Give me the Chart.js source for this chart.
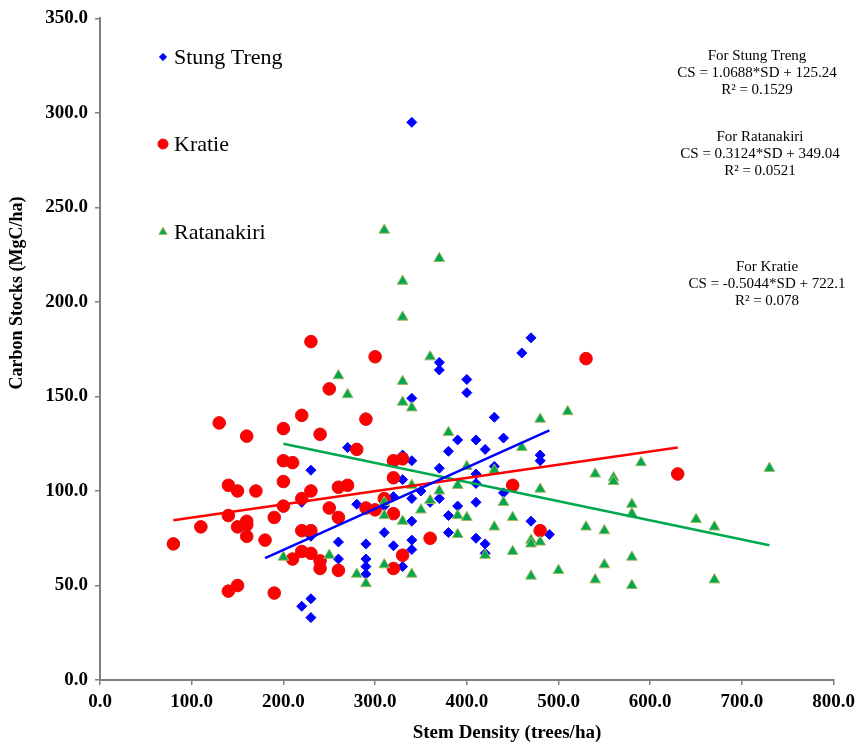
<!DOCTYPE html>
<html>
<head>
<meta charset="utf-8">
<script src="https://cdn.jsdelivr.net/npm/chart.js@4.4.1/dist/chart.umd.min.js"></script>
<style>
  html, body { margin: 0; padding: 0; background: #fff; }
  #wrap { position: relative; width: 861px; height: 744px; }
</style>
</head>
<body>
<div id="wrap"><canvas id="chart"></canvas></div>
<script>
// [stem density, carbon stock] pairs
const stungTreng = [
    [340, 295], [470, 181], [460, 173], [370, 168], [370, 164], [400, 159], [400, 152], [340, 149],
    [430, 139], [390, 127], [410, 127], [440, 128], [420, 122], [380, 121], [270, 123], [330, 119],
    [340, 116], [230, 111], [370, 112], [410, 109], [430, 113], [480, 119], [480, 116], [330, 106],
    [410, 104], [440, 99], [350, 100], [320, 97], [340, 96], [370, 96], [360, 94], [280, 93],
    [310, 92], [220, 94], [390, 92], [410, 94], [340, 84], [380, 87], [470, 84], [490, 77],
    [230, 76], [310, 78], [380, 78], [410, 75], [420, 72], [420, 67], [260, 73], [290, 72],
    [320, 71], [340, 74], [340, 69], [260, 64], [290, 64], [290, 60], [290, 56], [330, 60],
    [230, 43], [220, 39], [230, 33]
];
const kratie = [
    [80, 72], [110, 81], [130, 136], [140, 103], [140, 87], [140, 47], [150, 100], [150, 81],
    [150, 50], [160, 129], [160, 84], [160, 82], [160, 76], [170, 100], [180, 74], [190, 86],
    [190, 46], [200, 133], [200, 116], [200, 105], [200, 92], [210, 115], [210, 64], [220, 140],
    [220, 96], [220, 79], [220, 68], [230, 179], [230, 100], [230, 79], [230, 67], [240, 130],
    [240, 63], [240, 59], [250, 154], [250, 91], [260, 102], [260, 86], [260, 58], [270, 103],
    [280, 122], [290, 138], [290, 91], [300, 171], [300, 90], [310, 96], [320, 116], [320, 107],
    [320, 88], [320, 59], [330, 117], [330, 66], [360, 75], [450, 103], [480, 79], [530, 170],
    [630, 109]
];
const ratanakiri = [
    [260, 161], [270, 151], [200, 65], [250, 66], [280, 56], [310, 238], [370, 223], [330, 211],
    [330, 192], [360, 171], [330, 158], [330, 147], [340, 144], [380, 131], [480, 138], [510, 142],
    [460, 123], [400, 113], [430, 111], [390, 103], [340, 103], [480, 101], [370, 100], [360, 95],
    [310, 94], [350, 90], [310, 87], [330, 84], [390, 87], [400, 86], [440, 94], [450, 86],
    [390, 77], [430, 81], [450, 68], [470, 74], [470, 72], [480, 73], [420, 66], [500, 58],
    [470, 55], [290, 51], [310, 61], [340, 56], [590, 115], [540, 109], [560, 107], [560, 105],
    [730, 112], [580, 93], [580, 88], [650, 85], [670, 81], [530, 81], [550, 79], [580, 65],
    [550, 61], [540, 53], [670, 53], [580, 50]
];

// trend line end points
const trendStungTreng = [[180, 64.5], [490, 132]];
const trendKratie = [[80, 84.5], [630, 123]];
const trendRatanakiri = [[200, 125], [730, 71.3]];

const seriesNames = ['Stung Treng', 'Kratie', 'Ratanakiri'];
const equationBlocks = [
    ['For Stung Treng', 'CS = 1.0688*SD + 125.24', 'R\u00B2 = 0.1529'],
    ['For Ratanakiri', 'CS = 0.3124*SD + 349.04', 'R\u00B2 = 0.0521'],
    ['For Kratie', 'CS = -0.5044*SD + 722.1', 'R\u00B2 = 0.078']
];
const xRange = [0, 800, 100];
const yRange = [0, 350, 50];

const SERIF = '"Liberation Serif", "Times New Roman", serif';
const GREEN = '#00A84F';

const toPoints = arr => arr.map(p => ({ x: p[0], y: p[1] }));

const markerStyles = [
    { pointStyle: 'rectRot', radius: 5, fill: '#0000FF', stroke: '#0000FF' },
    { pointStyle: 'circle', radius: 6.3, fill: '#FF0000', stroke: '#E01010' },
    { pointStyle: 'triangle', radius: 6.2, fill: GREEN, stroke: '#A8B860' }
];

function scatterSet(label, data, st, order) {
    return {
        label: label,
        data: toPoints(data),
        pointStyle: st.pointStyle,
        pointRadius: st.radius,
        backgroundColor: st.fill,
        borderColor: st.stroke,
        borderWidth: 1,
        showLine: false,
        order: order
    };
}

function trendSet(data, color) {
    return {
        data: toPoints(data),
        showLine: true,
        borderColor: color,
        borderWidth: 2.5,
        pointRadius: 0,
        fill: false,
        order: 0
    };
}

const overlay = {
    id: 'overlay',
    afterDraw(chart) {
        const ctx = chart.ctx;
        ctx.save();
        ctx.fillStyle = '#000';
        ctx.textAlign = 'center';
        ctx.textBaseline = 'middle';

        // axis titles
        ctx.font = 'bold 19px ' + SERIF;
        ctx.fillText('Stem Density (trees/ha)', 507, 733);
        ctx.font = 'bold 18px ' + SERIF;
        ctx.save();
        ctx.translate(17, 293);
        ctx.rotate(-Math.PI / 2);
        ctx.fillText('Carbon Stocks (MgC/ha)', 0, 0);
        ctx.restore();

        // legend
        const legendRows = [57, 144, 232];
        const legendSizes = [3.6, 5, 4.8];
        seriesNames.forEach((name, i) => {
            const st = markerStyles[i];
            ctx.fillStyle = st.fill;
            ctx.strokeStyle = st.stroke;
            ctx.lineWidth = 1;
            Chart.helpers.drawPoint(ctx, { pointStyle: st.pointStyle, radius: legendSizes[i], rotation: 0, borderWidth: 1 }, 163, legendRows[i]);
            ctx.fillStyle = '#000';
            ctx.textAlign = 'left';
            ctx.font = '22px ' + SERIF;
            ctx.fillText(name, 174, legendRows[i] + 1);
        });

        // regression equations
        const blockPos = [[757, 56], [760, 137], [767, 267]];
        ctx.textAlign = 'center';
        ctx.font = '15px ' + SERIF;
        equationBlocks.forEach((lines, i) => {
            lines.forEach((t, j) => {
                ctx.fillText(t, blockPos[i][0], blockPos[i][1] + j * 17);
            });
        });
        ctx.restore();
    }
};

const axisGrid = { drawOnChartArea: false, drawTicks: true, tickLength: 5, color: '#808080', lineWidth: 1.5 };

new Chart(document.getElementById('chart'), {
    type: 'scatter',
    data: {
        datasets: [
            scatterSet(seriesNames[0], stungTreng, markerStyles[0], 3),
            scatterSet(seriesNames[1], kratie, markerStyles[1], 2),
            scatterSet(seriesNames[2], ratanakiri, markerStyles[2], 1),
            trendSet(trendStungTreng, '#0000FF'),
            trendSet(trendKratie, '#FF0000'),
            trendSet(trendRatanakiri, GREEN)
        ]
    },
    options: {
        responsive: true,
        maintainAspectRatio: false,
        animation: false,
        layout: { padding: { top: 16, right: 25, left: 0, bottom: 0 } },
        plugins: {
            legend: { display: false },
            tooltip: { enabled: false }
        },
        scales: {
            x: {
                type: 'linear',
                min: xRange[0], max: xRange[1],
                grid: axisGrid,
                border: { color: '#808080', width: 2 },
                ticks: {
                    stepSize: xRange[2],
                    padding: 6,
                    color: '#000',
                    font: { family: SERIF, size: 19, weight: 'bold' },
                    callback: v => v.toFixed(1)
                },
                afterFit: s => { s.height = 64; }
            },
            y: {
                type: 'linear',
                min: yRange[0], max: yRange[1],
                grid: axisGrid,
                border: { color: '#808080', width: 2 },
                ticks: {
                    stepSize: yRange[2],
                    padding: 7,
                    color: '#000',
                    font: { family: SERIF, size: 19, weight: 'bold' },
                    callback: v => v.toFixed(1)
                },
                afterFit: s => { s.width = 100; }
            }
        }
    },
    plugins: [overlay]
});
</script>
</body>
</html>
